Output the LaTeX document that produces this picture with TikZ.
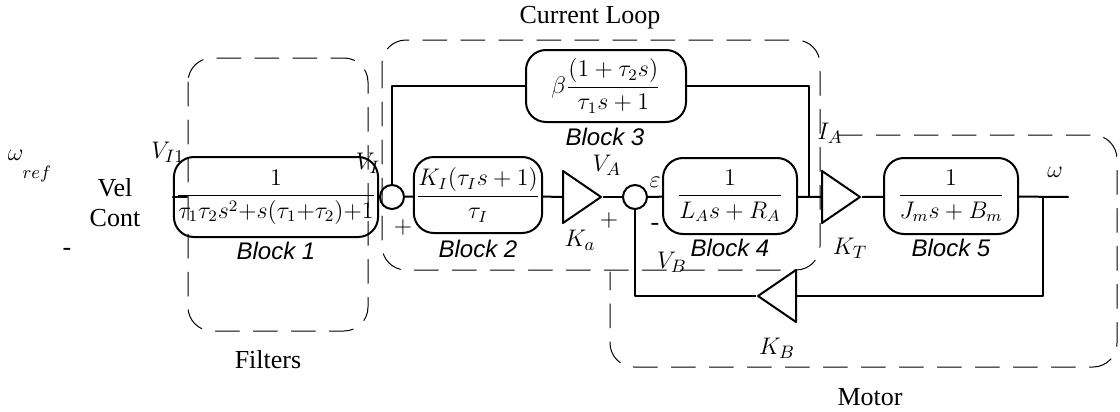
\documentclass[tikz,border=0pt]{standalone}
\usepackage{amsmath}
\usepackage{fontspec}
\setmainfont{Liberation Serif}
\setsansfont{Liberation Sans}
\usetikzlibrary{positioning,shapes.geometric}
\tikzset{
  bd diagram/.style={x=0.5pt, y=-0.5pt, line cap=round, line join=round},
  bd block/.style={draw, line width=1pt, rounded corners=10pt,
    minimum width=#1, minimum height=38pt, inner sep=1pt,
    font=\fontsize{11.5}{13}\selectfont},
  bd sum/.style={draw, line width=1pt, circle, minimum size=12pt, inner sep=0pt},
  bd gain/.style={draw, line width=1pt, isosceles triangle,
    isosceles triangle stretches, minimum width=26pt, minimum height=19pt,
    inner sep=0pt},
  bd wire/.style={line width=1pt},
  bd group/.style={line width=0.5pt, dash pattern=on 12pt off 7pt,
    rounded corners=12pt},
  bd name/.style={font=\sffamily\itshape\fontsize{12}{14}\selectfont, inner sep=0.5pt},
  bd label/.style={font=\fontsize{13}{15}\selectfont, inner sep=1pt},
  bd title/.style={font=\fontsize{13}{15}\selectfont, align=center}
}
\begin{document}
\begin{tikzpicture}[bd diagram]
\useasboundingbox (0,0) rectangle (1120,412);
% group frames
\draw[bd group] (188,58) rectangle (368,331);
\draw[bd group] (382,40) rectangle (820,270);
\draw[bd group] (838,135) -- (1117,135) -- (1117,367) -- (610,367) -- (610,272);
\node[bd title] at (590,18) {Current Loop};
\node[bd title] at (268,360) {Filters};
\node[bd title] at (870,397) {Motor};
% inputs
\node[bd label] (wref) at (30,166) {$\omega_{\raisebox{-7pt}{$\scriptstyle ref$}}$};
\node[bd title] (velc) at (115,203) {Vel\\Cont};
\node[bd label] (dash) at (67,252) {-};
\coordinate (in) at (187,197);
% blocks
\node[bd block=79pt, minimum height=40pt] (b1) at (276,197)
  {$\dfrac{1}{\tau_1\tau_2 s^2{+}s(\tau_1{+}\tau_2){+}1}$};
\node[bd sum] (s1) at (392,197) {};
\node[bd block=60pt] (b2) at (478,195) {$\dfrac{K_I(\tau_I s+1)}{\tau_I}$};
\node[bd block=80pt, minimum height=36pt] (b3) at (606,86)
  {$\beta\dfrac{(1+\tau_2 s)}{\tau_1 s+1}$};
\node[bd gain, anchor=lower side] (Ka) at (562,197) {};
\node[bd sum] (s2) at (635,197) {};
\node[bd block=67pt] (b4) at (730,196) {$\dfrac{1}{L_A s+R_A}$};
\node[bd gain, anchor=lower side] (KT) at (821,197) {};
\node[bd block=67pt] (b5) at (951,196) {$\dfrac{1}{J_m s+B_m}$};
\node[bd gain, shape border rotate=180, anchor=lower side] (KB) at (797,296) {};
\coordinate (j3) at (809,197);
\coordinate (tk) at (1043,197);
\coordinate (out) at (1068,197);
% block names
\node[bd name, below=1.5pt of b1] {Block 1};
\node[bd name, below=2.5pt of b2] {Block 2};
\node[bd name] at (605,137) {Block 3};
\node[bd name, below=1.5pt of b4] {Block 4};
\node[bd name, below=1.5pt of b5] {Block 5};
% wiring
\draw[bd wire] (in) -- (b1);
\draw[bd wire] (b1) -- (s1);
\draw[bd wire] (s1) -- (b2);
\draw[bd wire] (b2) -- (Ka.lower side);
\draw[bd wire] (Ka.apex) -- (s2);
\draw[bd wire] (s2) -- (b4);
\draw[bd wire] (b4) -- (KT.lower side);
\draw[bd wire] (KT.apex) -- (b5);
\draw[bd wire] (b5) -- (out);
\draw[bd wire] (s1) |- (b3);
\draw[bd wire] (b3) -| (j3);
\draw[bd wire] (tk) |- (KB.lower side);
\draw[bd wire] (KB.apex) -| (s2);
% signal labels
\node[bd label] at (168,152) {$V_{I1}$};
\node[bd label] at (368,163) {$V_I$};
\node[bd label] at (403,227) {$+$};
\node[bd label] at (580,240) {$K_a$};
\node[bd label] at (607,165) {$V_A$};
\node[bd label] at (609,220) {$+$};
\node[bd label] at (655,182) {$\varepsilon$};
\node[bd label] at (655,227) {-};
\node[bd label] at (672,262) {$V_B$};
\node[bd label] at (830,133) {$I_A$};
\node[bd label] at (850,248) {$K_T$};
\node[bd label] at (777,348) {$K_B$};
\node[bd label] at (1055,172) {$\omega$};
\end{tikzpicture}
\end{document}
